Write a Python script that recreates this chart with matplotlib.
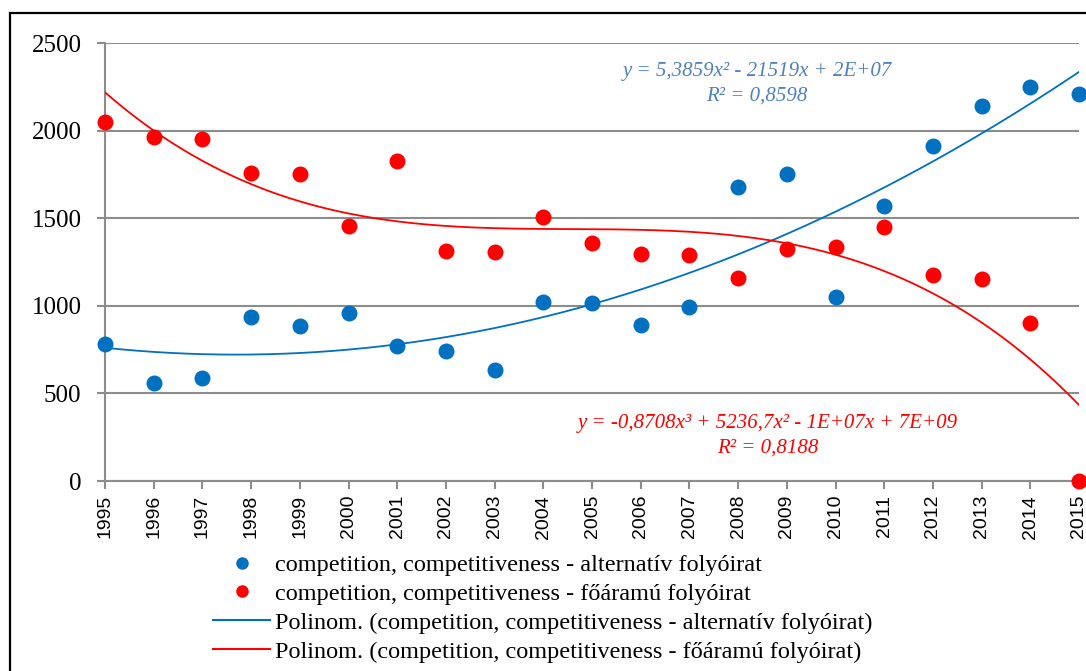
import matplotlib
matplotlib.use('Agg')
import matplotlib.pyplot as plt
from matplotlib.lines import Line2D
from matplotlib.patches import Rectangle
import numpy as np

# yearly counts for the two journal groups
years = list(range(1995, 2016))
alternativ = [782, 559, 588, 936, 885, 959, 770, 742, 634, 1022, 1016,
              890, 993, 1678, 1752, 1050, 1570, 1912, 2140, 2249, 2209]
foaramu = [2049, 1963, 1952, 1758, 1752, 1455, 1826, 1313, 1307, 1507, 1358,
           1296, 1290, 1159, 1324, 1336, 1450, 1176, 1153, 902, 0]

label_alt = 'competition, competitiveness - alternatív folyóirat'
label_fo = 'competition, competitiveness - főáramú folyóirat'
eq_alt = ['y = 5,3859x² - 21519x + 2E+07', 'R² = 0,8598']
eq_fo = ['y = -0,8708x³ + 5236,7x² - 1E+07x + 7E+09', 'R² = 0,8188']

BLUE = '#0070C0'
RED = '#FF0000'
EQ_BLUE = '#4F81BD'
GRID = '#8C8C8C'
SERIF = 'Liberation Serif'
SANS = 'Liberation Sans'

fig = plt.figure(figsize=(10.86, 6.71), dpi=100)
ax = fig.add_axes([105 / 1086, 1 - 481 / 671, (1079 - 105) / 1086, (481 - 43) / 671])

x = np.array(years, dtype=float)
xs = np.linspace(x.min(), x.max(), 300)

# polynomial trendlines (quadratic and cubic), fitted on shifted years
p_alt = np.polyfit(x - 1995, alternativ, 2)
p_fo = np.polyfit(x - 1995, foaramu, 3)
ax.plot(xs, np.polyval(p_alt, xs - 1995), color=BLUE, lw=1.3, zorder=3)
ax.plot(xs, np.polyval(p_fo, xs - 1995), color=RED, lw=1.3, zorder=3)

ax.plot(years, alternativ, 'o', color=BLUE, ms=11.5, mec='none', clip_on=False, zorder=4)
ax.plot(years, foaramu, 'o', color=RED, ms=11.5, mec='none', clip_on=False, zorder=4)

ax.set_xlim(1995, 2015)
ax.set_ylim(0, 2500)
ax.set_yticks(range(0, 2501, 500))
ax.set_xticks(years)
ax.set_xticklabels([str(y) for y in years], rotation=90, family=SANS, fontsize=14)
for lab in ax.get_yticklabels():
    lab.set_family(SERIF)
    lab.set_fontsize(18)

ax.grid(axis='y', color=GRID, lw=1.5)
ax.set_axisbelow(True)
for side in ['top', 'right']:
    ax.spines[side].set_visible(False)
for side in ['left', 'bottom']:
    ax.spines[side].set_color(GRID)
    ax.spines[side].set_linewidth(1.5)
ax.tick_params(axis='y', color=GRID, width=1.5, length=6, pad=11)
ax.tick_params(axis='x', color=GRID, width=1.5, length=6, pad=4)

# trendline equations
ax.text(2008.39, 2340, eq_alt[0], color=EQ_BLUE, ha='center', va='center',
        family=SERIF, style='italic', fontsize=15)
ax.text(2008.39, 2197, eq_alt[1], color=EQ_BLUE, ha='center', va='center',
        family=SERIF, style='italic', fontsize=15)
ax.text(2008.6, 331, eq_fo[0], color=RED, ha='center', va='center',
        family=SERIF, style='italic', fontsize=15)
ax.text(2008.6, 188, eq_fo[1], color=RED, ha='center', va='center',
        family=SERIF, style='italic', fontsize=15)

handles = [
    Line2D([], [], marker='o', ls='none', color=BLUE, ms=9, mec='none'),
    Line2D([], [], marker='o', ls='none', color=RED, ms=9, mec='none'),
    Line2D([], [], color=BLUE, lw=1.5),
    Line2D([], [], color=RED, lw=1.5),
]
labels = [label_alt, label_fo, 'Polinom. (' + label_alt + ')', 'Polinom. (' + label_fo + ')']
fig.legend(handles, labels, loc='upper left', bbox_to_anchor=(201 / 1086, 1 - 542 / 671),
           frameon=False, prop={'family': SERIF, 'size': 17.5}, handlelength=2.35,
           handletextpad=0.2, labelspacing=0.28, borderpad=0)

# outer chart border
fig.patches.append(Rectangle((10 / 1086, -0.1), 1.2, 1 - 13 / 671 + 0.1,
                             transform=fig.transFigure, fill=False,
                             edgecolor='black', lw=1.6))

fig.savefig('out.png', dpi=100)
